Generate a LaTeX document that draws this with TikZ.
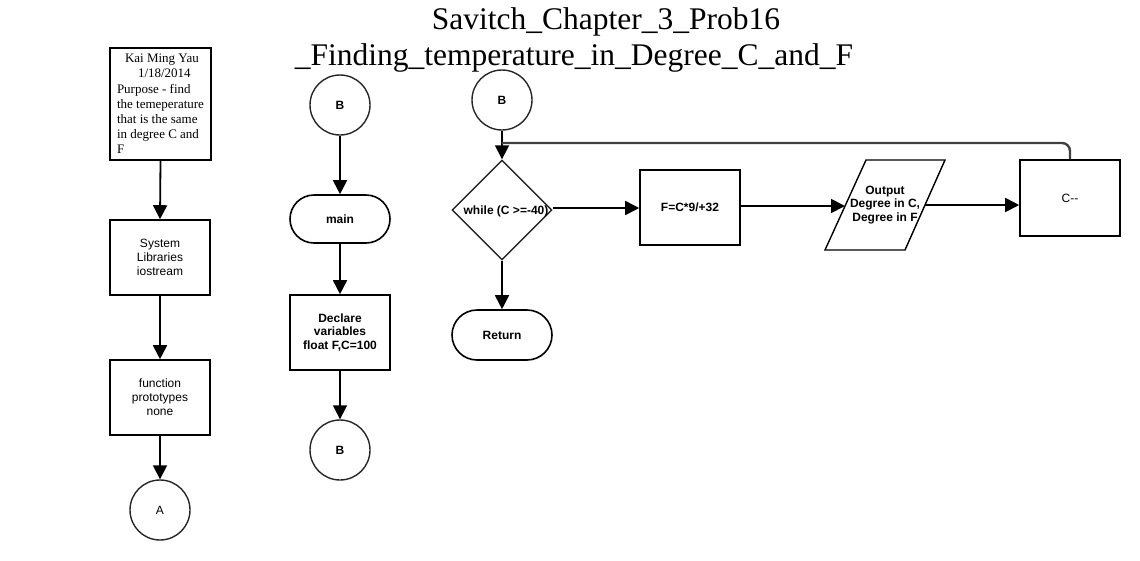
\documentclass[tikz,border=0pt]{standalone}
\usepackage{fontspec}
\setmainfont{Liberation Serif}
\setsansfont{Liberation Sans}
\usetikzlibrary{arrows.meta,shapes.geometric,shapes.misc}
\begin{document}
\begin{tikzpicture}[x=1pt,y=-1pt,
  every node/.style={inner sep=0pt},
  sans/.style={font=\sffamily\fontsize{12}{13.8}\selectfont},
  sansb/.style={font=\sffamily\bfseries\fontsize{12}{13.8}\selectfont},
  box/.style={draw, line width=1.6pt, minimum width=100pt, minimum height=75pt, align=center},
  pill/.style={draw, line width=1.6pt, rounded rectangle, minimum width=100pt, minimum height=48pt, align=center},
  circ/.style={draw, line width=1.4pt, black!85, text=black, circle, minimum size=60pt},
  conn/.style={draw, line width=1.8pt, -{Triangle[length=14pt,width=14pt]}},
  loopline/.style={draw, line width=2.4pt, black!75, rounded corners=8pt},
  titlef/.style={font=\fontsize{31.5}{36}\selectfont, anchor=base}
]
\useasboundingbox (0,0) rectangle (1140,560);

% title
\node[titlef] (t1) at (606,29) {Savitch\_Chapter\_3\_Prob16};
\node[titlef] (t2) at (574,65) {\_Finding\_temperature\_in\_Degree\_C\_and\_F};

% left column
\node[draw, line width=1.6pt, minimum width=101pt, minimum height=112pt,
      align=left, font=\fontsize{13}{15.2}\selectfont]
  (info) at (160.5,104) {\hspace*{8pt}Kai Ming Yau\\\hspace*{21pt}1/18/2014\\Purpose - find\\the temeperature\\that is the same\\in degree C and\\F};
\node[box, sans] (sys) at (160,257.5) {System\\Libraries\\iostream};
\node[box, sans] (proto) at (160,397.5) {function\\prototypes\\none};
\node[circ, sans] (A) at (160,510) {A};

\draw[conn] (info.south) -- (sys.north);
\draw[conn] (sys.south) -- (proto.north);
\draw[conn] (proto.south) -- (A.north);

% middle column
\node[circ, sansb] (B1) at (340,105) {B};
\node[pill, sansb] (main) at (340,219) {main};
\node[box, sansb] (decl) at (340,332.5) {Declare\\variables\\float F,C=100};
\node[circ, sansb] (B2) at (340,450) {B};

\draw[conn] (B1.south) -- (main.north);
\draw[conn] (main.south) -- (decl.north);
\draw[conn] (decl.south) -- (B2.north);

% right part
\node[circ, sansb] (B3) at (502,100) {B};
\node[draw, line width=1.4pt, black!85, diamond, aspect=1, minimum width=100pt, minimum height=100pt] (dia) at (502,210) {};
\node[sansb] (wtxt) at (506,211) {while (C >=-40)};
\node[box, sansb] (F) at (690,207.5) {F=C*9/+32};
\node[sansb, align=center] (out) at (885,205) {Output\\Degree in C,\\Degree in F};
\draw[line width=1.4pt] (825,250) -- (866,160) -- (945,160) -- (905,250) -- cycle;
\coordinate (outL) at (845,206);
\coordinate (outR) at (925,205);
\node[box, sans, minimum height=76pt] (cm) at (1070,198) {C{-}{-}};
\node[pill, sansb, minimum height=50pt] (ret) at (502,335) {Return};
\coordinate (j) at (502,143);

\draw[conn] (B3.south) -- (dia.north);
\draw[loopline] (cm.north) |- (j);
\draw[conn] (dia.east |- 0,208) -- (F.west |- 0,208);
\draw[conn] (F.east |- outL) -- (outL);
\draw[conn] (outR) -- (outR -| cm.west);
\draw[conn] (dia.south) -- (ret.north);
\end{tikzpicture}
\end{document}
